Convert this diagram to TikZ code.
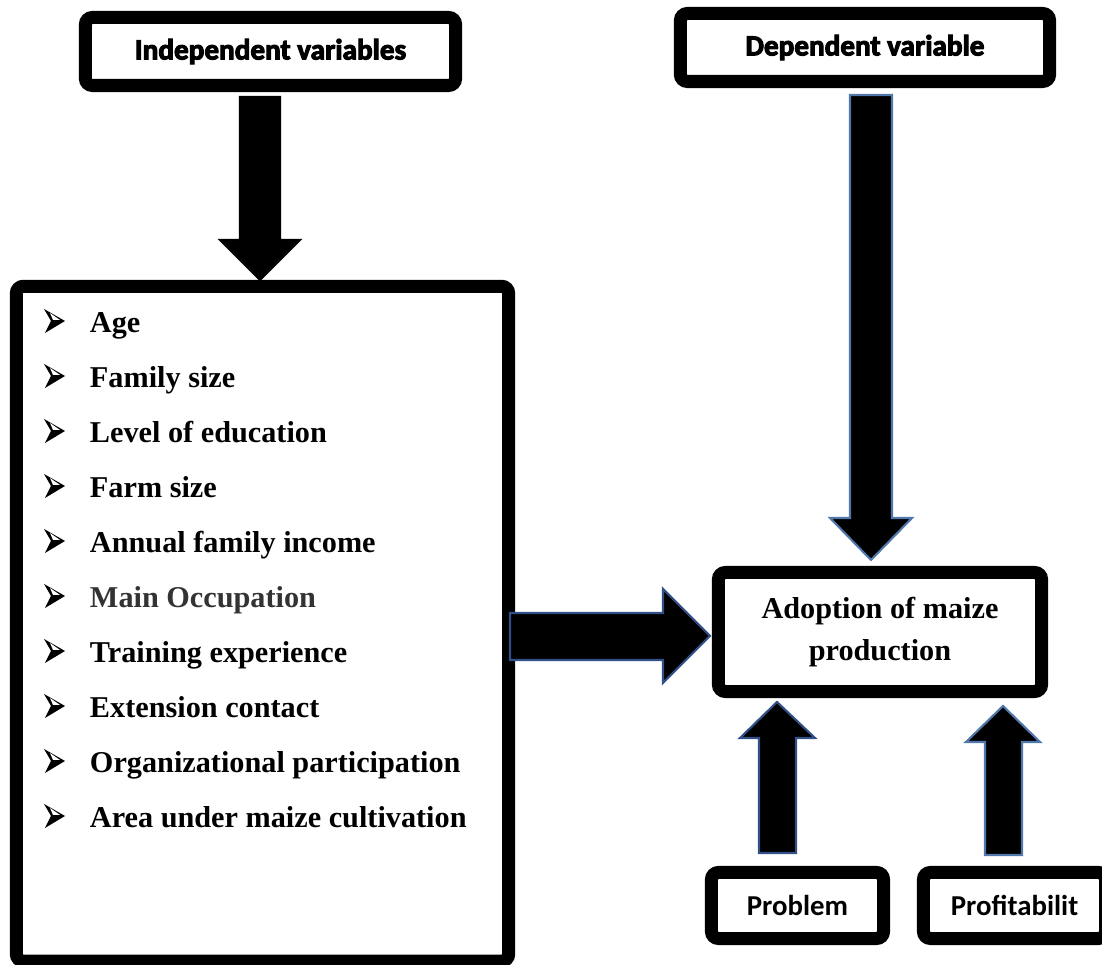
\documentclass[tikz,border=0pt]{standalone}
\usepackage{fontspec}
\usepackage{xcolor}
\setmainfont{Liberation Serif}
\newfontfamily\headfont{Carlito}[BoldFeatures={FakeBold=3.5}]
\newfontfamily\labelfont{Carlito}
\definecolor{arrowdark}{RGB}{50,80,135}
\definecolor{arrowsteel}{RGB}{80,120,170}

\begin{document}
\begin{tikzpicture}[x=0.01cm, y=-0.01cm,
    every node/.style={outer sep=0pt},
    frame/.style={draw=black, line width=0.13cm, rounded corners=2pt, fill=white, inner sep=0pt},
    headtext/.style={font=\headfont\bfseries\fontsize{8.3}{10}\selectfont},
    boxtext/.style={font=\labelfont\bfseries\fontsize{8.2}{9.8}\selectfont},
    itemtext/.style={anchor=base west, inner sep=0pt, font=\bfseries\fontsize{8.6}{10}\selectfont},
    blockarrow/.style={fill=black, line width=0.6pt, line join=miter}]
    \useasboundingbox (0,0) rectangle (1102,965);

    % boxes
    \node[frame, minimum width=3.70cm, minimum height=0.68cm, headtext] (indep) at (270.5, 51.5) {Independent variables};
    \node[frame, minimum width=3.69cm, minimum height=0.68cm, headtext] (dep) at (865, 47.5) {Dependent variable};
    \node[frame, minimum width=4.92cm, minimum height=6.745cm] (list) at (262.5, 623.75) {};
    \node[frame, minimum width=3.23cm, minimum height=1.19cm, align=center,
          font=\bfseries\fontsize{8.6}{11.9}\selectfont] (adopt) at (880, 632) {Adoption of maize\\production};
    \node[frame, minimum width=1.72cm, minimum height=0.66cm, boxtext] (prob) at (797.5, 905.5) {Problem};
    \node[frame, minimum width=1.82cm, minimum height=0.66cm, boxtext] (profit) at (1014.5, 905.5) {Profitabilit};

    % list of variables
    \foreach \txt/\col [count=\i from 0] in {Age/black, Family size/black, Level of education/black,
        Farm size/black, Annual family income/black, Main Occupation/black!80,
        Training experience/black, Extension contact/black,
        Organizational participation/black, Area under maize cultivation/black} {
        \fill[shift={(0,55*\i)}] (44,309) -- (65,321) -- (45,333) -- (51,321) -- cycle;
        \fill[white, shift={(0,55*\i)}] (50,313) -- (60,320) -- (53,320) -- cycle;
        \node[itemtext, text=\col] (item\i) at (90, 333+55*\i) {\txt};
    }

    % block arrows
    \draw[blockarrow, draw=black] (240,97) -- (280,97) -- (280,240) -- (300,240) -- (260,280)
        -- (220,240) -- (240,240) -- cycle;
    \draw[blockarrow, draw=arrowsteel] (850,95) -- (892,95) -- (892,518) -- (912,518) -- (871,560)
        -- (830,518) -- (850,518) -- cycle;
    \draw[blockarrow, draw=arrowdark] (510,613) -- (663,613) -- (663,589) -- (710,636) -- (663,683)
        -- (663,660) -- (510,660) -- cycle;
    \draw[blockarrow, draw=arrowdark] (759,853) -- (759,738) -- (740,738) -- (777,702) -- (815,738)
        -- (796,738) -- (796,853) -- cycle;
    \draw[blockarrow, draw=arrowsteel] (985,855) -- (985,742) -- (966,742) -- (1003,706) -- (1040,742)
        -- (1022,742) -- (1022,855) -- cycle;
\end{tikzpicture}
\end{document}
